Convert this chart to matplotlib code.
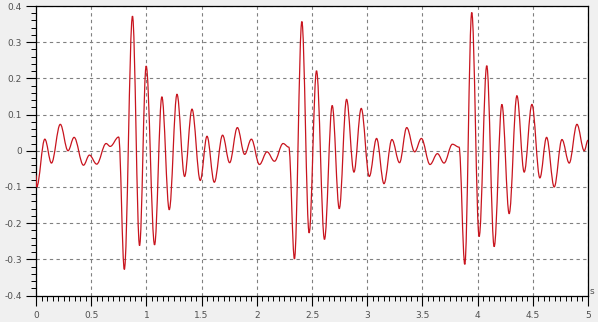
import matplotlib
matplotlib.use("Agg")
import matplotlib.pyplot as plt
from matplotlib.path import Path
from matplotlib.patches import PathPatch
from matplotlib.ticker import MultipleLocator, FuncFormatter

# turning points of the trace (time in s, amplitude)
times = [0.0, 0.006, 0.08, 0.14, 0.22, 0.29, 0.345, 0.43, 0.484, 0.55,
         0.635, 0.672, 0.749, 0.80, 0.874, 0.938, 0.998, 1.074, 1.14, 1.207,
         1.277, 1.346, 1.413, 1.488, 1.549, 1.615, 1.69, 1.754, 1.824, 1.89,
         1.951, 2.024, 2.093, 2.16, 2.238, 2.29, 2.341, 2.408, 2.474, 2.541,
         2.613, 2.683, 2.747, 2.813, 2.88, 2.946, 3.019, 3.085, 3.152, 3.224,
         3.293, 3.358, 3.43, 3.491, 3.569, 3.636, 3.696, 3.772, 3.832, 3.884,
         3.947, 4.014, 4.083, 4.15, 4.22, 4.286, 4.356, 4.422, 4.492, 4.564,
         4.625, 4.694, 4.764, 4.83, 4.90, 4.966, 5.0]
values = [-0.068, -0.10, 0.032, -0.034, 0.073, 0.0, 0.037, -0.04, -0.012, -0.037,
          0.02, 0.012, 0.038, -0.328, 0.372, -0.262, 0.234, -0.26, 0.149, -0.163,
          0.156, -0.071, 0.115, -0.082, 0.04, -0.087, 0.043, -0.033, 0.064, -0.01,
          0.032, -0.038, -0.003, -0.029, 0.02, 0.01, -0.299, 0.357, -0.227, 0.221,
          -0.245, 0.125, -0.16, 0.142, -0.059, 0.117, -0.071, 0.034, -0.091, 0.031,
          -0.033, 0.064, -0.003, 0.034, -0.038, -0.008, -0.034, 0.018, 0.01, -0.314,
          0.382, -0.237, 0.235, -0.265, 0.128, -0.174, 0.152, -0.059, 0.128, -0.075,
          0.037, -0.10, 0.031, -0.034, 0.073, 0.0, 0.029]

plt.rcParams["axes.unicode_minus"] = False
plt.rcParams["font.family"] = "DejaVu Sans"

BG = "#f0f0f0"
RED = "#c8141e"

fig = plt.figure(figsize=(5.98, 3.22), dpi=100, facecolor=BG)
ax = fig.add_axes([36 / 598, 1 - 295.5 / 322, 552 / 598, 289.5 / 322])
ax.set_facecolor("white")

# smooth trace: cubic segments with flat tangents at each turning point
verts = [(times[0], values[0])]
codes = [Path.MOVETO]
for (t0, y0), (t1, y1) in zip(zip(times[:-1], values[:-1]), zip(times[1:], values[1:])):
    k = 0.364 * (t1 - t0)
    verts += [(t0 + k, y0), (t1 - k, y1), (t1, y1)]
    codes += [Path.CURVE4] * 3
ax.add_patch(PathPatch(Path(verts, codes), facecolor="none", edgecolor=RED,
                       lw=0.9, zorder=3))

ax.set_xlim(0, 5)
ax.set_ylim(-0.4, 0.4)
ax.xaxis.set_major_locator(MultipleLocator(0.5))
ax.xaxis.set_minor_locator(MultipleLocator(0.05))
ax.yaxis.set_major_locator(MultipleLocator(0.1))
ax.yaxis.set_minor_locator(MultipleLocator(0.02))
fmt = FuncFormatter(lambda v, _: f"{round(v, 2):g}" if abs(v) > 1e-9 else "0")
ax.xaxis.set_major_formatter(fmt)
ax.yaxis.set_major_formatter(fmt)

# tick sizes in points: ~10 px major, ~5 px minor at 100 dpi
ax.tick_params(which="major", direction="out", length=7.2, width=0.8,
               color="black", labelsize=6.5, labelcolor="#505050")
ax.tick_params(which="minor", direction="out", length=3.6, width=0.7, color="black")
ax.tick_params(axis="x", which="major", pad=4.0)
ax.tick_params(axis="y", which="major", pad=3.0)

ax.grid(True, which="major", color="#808080", linestyle=(0, (3, 3)), lw=0.8)
for s in ax.spines.values():
    s.set_color("black")
    s.set_linewidth(0.9)

fig.text(590 / 598, 1 - 292 / 322, "s", fontsize=6.5, color="#505050",
         ha="left", va="center")

fig.savefig("out.png", dpi=100, facecolor=BG)
